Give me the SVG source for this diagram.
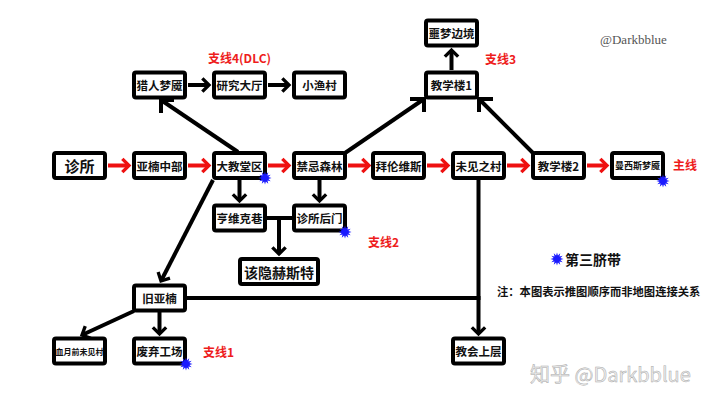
<svg xmlns="http://www.w3.org/2000/svg" width="720" height="405" viewBox="0 0 720 405">
<style>
.box{fill:#fff;stroke:#000;stroke-width:4;rx:2}
.lbl{font-family:"Noto Sans CJK SC","Noto Sans",sans-serif;font-weight:700;font-size:11.5px;fill:#111;text-anchor:middle;dominant-baseline:central}
.red{font-family:"Noto Sans CJK SC","Liberation Sans",sans-serif;font-weight:700;font-size:12px;fill:#ee1c1c;dominant-baseline:central}
.ln{stroke:#000;stroke-width:4;fill:none}
.rl{stroke:#ee1111;stroke-width:4;fill:none}
</style>
<defs>
<marker id="ab" markerUnits="userSpaceOnUse" markerWidth="20" markerHeight="20" refX="0" refY="0" viewBox="-12 -12 24 24" orient="auto" overflow="visible">
<path d="M-8,-8 L0,0 L-8,8" fill="none" stroke="#000" stroke-width="4"/>
</marker>
<marker id="ar" markerUnits="userSpaceOnUse" markerWidth="20" markerHeight="20" refX="0" refY="0" viewBox="-12 -12 24 24" orient="auto" overflow="visible">
<path d="M-8,-8 L0,0 L-8,8" fill="none" stroke="#ee1111" stroke-width="4"/>
</marker>
<polygon id="star" fill="#1a1aff" points="6.5,0 3.38,0.91 5.63,3.25 2.47,2.47 3.25,5.63 0.91,3.38 0,6.5 -0.91,3.38 -3.25,5.63 -2.47,2.47 -5.63,3.25 -3.38,0.91 -6.5,0 -3.38,-0.91 -5.63,-3.25 -2.47,-2.47 -3.25,-5.63 -0.91,-3.38 0,-6.5 0.91,-3.38 3.25,-5.63 2.47,-2.47 5.63,-3.25 3.38,-0.91"/>
</defs>
<rect width="720" height="405" fill="#fff"/>

<g id="connectors">
<line class="rl" x1="108" y1="165.5" x2="129" y2="165.5" marker-end="url(#ar)"/>
<line class="rl" x1="188" y1="165.5" x2="209" y2="165.5" marker-end="url(#ar)"/>
<line class="rl" x1="268" y1="165.5" x2="289" y2="165.5" marker-end="url(#ar)"/>
<line class="rl" x1="348" y1="165.5" x2="369" y2="165.5" marker-end="url(#ar)"/>
<line class="rl" x1="427" y1="165.5" x2="448" y2="165.5" marker-end="url(#ar)"/>
<line class="rl" x1="507" y1="165.5" x2="528" y2="165.5" marker-end="url(#ar)"/>
<line class="rl" x1="587" y1="165.5" x2="607" y2="165.5" marker-end="url(#ar)"/>

<line class="ln" x1="188" y1="85" x2="209" y2="85" marker-end="url(#ab)"/>
<line class="ln" x1="268" y1="85" x2="289" y2="85" marker-end="url(#ab)"/>
<line class="ln" x1="451.5" y1="70" x2="451.5" y2="50" marker-end="url(#ab)"/>

<line class="ln" x1="345" y1="153" x2="424" y2="99"/>
<path class="ln" d="M410,99 L424,99 L424,112"/>
<line class="ln" x1="533" y1="153" x2="479" y2="99"/>
<path class="ln" d="M493,99 L479,99 L479,112"/>
<line class="ln" x1="238" y1="152" x2="161" y2="100"/>
<path class="ln" d="M161,113 L161,100 L174,100"/>

<line class="ln" x1="239.5" y1="180" x2="239.5" y2="201" marker-end="url(#ab)"/>
<line class="ln" x1="319.5" y1="180" x2="319.5" y2="201" marker-end="url(#ab)"/>
<line class="ln" x1="267" y1="218" x2="292" y2="218"/>
<line class="ln" x1="279" y1="218" x2="279" y2="254" marker-end="url(#ab)"/>
<line class="ln" x1="213" y1="180" x2="161" y2="281" marker-end="url(#ab)"/>
<line class="ln" x1="187" y1="298" x2="480.5" y2="298"/>
<line class="ln" x1="478.5" y1="180" x2="478.5" y2="334" marker-end="url(#ab)"/>
<line class="ln" x1="134" y1="311" x2="82" y2="335" marker-end="url(#ab)"/>
<line class="ln" x1="159.5" y1="312" x2="159.5" y2="334" marker-end="url(#ab)"/>
</g>

<g id="n-zhensuo"><rect class="box" x="54" y="153" width="51" height="25"/><text class="lbl" x="79.5" y="165.5" style="font-size:15px">诊所</text></g>
<g id="n-yananzhongbu"><rect class="box" x="134" y="153" width="51" height="25"/><text class="lbl" x="159.5" y="165.5">亚楠中部</text></g>
<g id="n-dajiaotangqu"><rect class="box" x="214" y="153" width="51" height="25"/><text class="lbl" x="239.5" y="165.5">大教堂区</text></g>
<g id="n-jinjisenlin"><rect class="box" x="294" y="153" width="51" height="25"/><text class="lbl" x="319.5" y="165.5">禁忌森林</text></g>
<g id="n-bailunweisi"><rect class="box" x="373" y="153" width="51" height="25"/><text class="lbl" x="398.5" y="165.5">拜伦维斯</text></g>
<g id="n-weijianzhicun"><rect class="box" x="453" y="153" width="51" height="25"/><text class="lbl" x="478.5" y="165.5">未见之村</text></g>
<g id="n-jiaoxuelou2"><rect class="box" x="533" y="153" width="51" height="25"/><text class="lbl" x="558.5" y="165.5">教学楼2</text></g>
<g id="n-manxisi"><rect class="box" x="612" y="153" width="51" height="25"/><text class="lbl" x="637.5" y="165.5" style="font-size:9px">曼西斯梦魇</text></g>
<g id="n-lierenmengyan"><rect class="box" x="134" y="72.5" width="51" height="25"/><text class="lbl" x="159.5" y="85">猎人梦魇</text></g>
<g id="n-yanjiudating"><rect class="box" x="214" y="72.5" width="51" height="25"/><text class="lbl" x="239.5" y="85">研究大厅</text></g>
<g id="n-xiaoyucun"><rect class="box" x="294" y="72.5" width="51" height="25"/><text class="lbl" x="319.5" y="85">小渔村</text></g>
<g id="n-jiaoxuelou1"><rect class="box" x="426" y="72.5" width="51" height="25"/><text class="lbl" x="451.5" y="85">教学楼1</text></g>
<g id="n-emengbianjing"><rect class="box" x="426" y="20.5" width="51" height="25"/><text class="lbl" x="451.5" y="33">噩梦边境</text></g>
<g id="n-hengweikexiang"><rect class="box" x="214" y="205.5" width="51" height="25"/><text class="lbl" x="239.5" y="218">亨维克巷</text></g>
<g id="n-zhensuohoumen"><rect class="box" x="294" y="205.5" width="51" height="25"/><text class="lbl" x="319.5" y="218">诊所后门</text></g>
<g id="n-gaiyin"><rect class="box" x="240" y="259" width="78" height="25"/><text class="lbl" x="279" y="271.5" style="font-size:14px">该隐赫斯特</text></g>
<g id="n-jiuyanan"><rect class="box" x="134" y="285.5" width="51" height="25"/><text class="lbl" x="159.5" y="298">旧亚楠</text></g>
<g id="n-xueyue"><rect class="box" x="54" y="338.5" width="51" height="25"/><text class="lbl" x="79.5" y="351" style="font-size:8px">血月前未见村</text></g>
<g id="n-feiqigongchang"><rect class="box" x="134" y="338.5" width="51" height="25"/><text class="lbl" x="159.5" y="351">废弃工场</text></g>
<g id="n-jiaohuishangceng"><rect class="box" x="453" y="338.5" width="51" height="25"/><text class="lbl" x="478.5" y="351">教会上层</text></g>

<g id="stars">
<use href="#star" x="265" y="178"/>
<use href="#star" x="345" y="232"/>
<use href="#star" x="663" y="181"/>
<use href="#star" x="186" y="364"/>
<use href="#star" x="557" y="259"/>
</g>

<g id="labels">
<text class="red" x="208" y="57">支线4(DLC)</text>
<text class="red" x="485" y="58">支线3</text>
<text class="red" x="673" y="164">主线</text>
<text class="red" x="368" y="241">支线2</text>
<text class="red" x="203" y="351">支线1</text>
<text x="565" y="259" style="font-family:'Noto Sans CJK SC',sans-serif;font-weight:700;font-size:14px;fill:#111;dominant-baseline:central">第三脐带</text>
<text x="497" y="291" style="font-family:'Noto Sans CJK SC',sans-serif;font-weight:700;font-size:11.3px;fill:#111;dominant-baseline:central">注：本图表示推图顺序而非地图连接关系</text>
<text x="600" y="44" style="font-family:'Liberation Serif',serif;font-size:13px;fill:#555">@Darkbblue</text>
<text x="530" y="382" style="font-family:'Noto Sans CJK SC','Liberation Sans',sans-serif;font-size:20px;fill:#eeeeee;stroke:#aaaaaa;stroke-width:0.5">知乎 @Darkbblue</text>
</g>
</svg>
